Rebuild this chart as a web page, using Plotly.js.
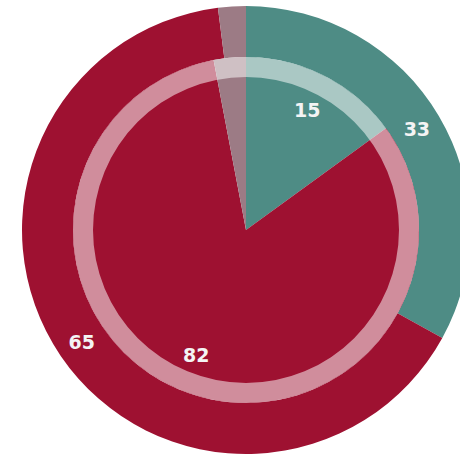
<!DOCTYPE html>
<html>
<head>
<meta charset="utf-8">
<script src="https://cdn.plot.ly/plotly-3.0.1.min.js"></script>
<style>
html,body{margin:0;padding:0;background:#fff;overflow:hidden;width:460px;height:455px;}
#chart{width:480px;height:455px;}
</style>
</head>
<body>
<div id="chart"></div>
<script>
// Data
const categories = ["Teal", "Crimson", "Other"];
const outerValues = [33, 65, 2];
const innerValues = [15, 82, 3];
const sliceColors = ["#4e8c85", "#9e1131", "#9c7b85"];

const W = 480, H = 455;
const cx = 246, cy = 230;          // centre in pixels (from top-left)
const rOuter = 224, rInner = 173, rBandIn = 153;

function dom(r) {
  return {
    x: [(cx - r) / W, (cx + r) / W],
    y: [(H - cy - r) / H, (H - cy + r) / H]
  };
}
function labelText(vals) {
  return vals.map((v, i) => i === vals.length - 1 ? "" : String(v));
}

const textFont = {family: "DejaVu Sans, Verdana, sans-serif", size: 19, color: "#f4f4f4", weight: "bold"};

const outer = {
  type: "pie", labels: categories, values: outerValues,
  sort: false, direction: "clockwise", rotation: 0,
  hole: rInner / rOuter,
  marker: {colors: sliceColors, line: {width: 0}},
  text: labelText(outerValues), textinfo: "text",
  textposition: "inside", insidetextorientation: "horizontal",
  insidetextfont: textFont,
  domain: dom(rOuter), hoverinfo: "none", showlegend: false
};
const inner = {
  type: "pie", labels: categories, values: innerValues,
  sort: false, direction: "clockwise", rotation: 0,
  marker: {colors: sliceColors, line: {width: 0}},
  textinfo: "none",
  domain: dom(rInner), hoverinfo: "none", showlegend: false
};
const band = {
  type: "pie", labels: ["band"], values: [1],
  sort: false, hole: rBandIn / rInner,
  marker: {colors: ["rgba(255,255,255,0.52)"], line: {width: 0}},
  textinfo: "none",
  domain: dom(rInner), hoverinfo: "none", showlegend: false
};
const innerLabels = {
  type: "pie", labels: categories, values: innerValues,
  sort: false, direction: "clockwise", rotation: 0,
  hole: 0.56,
  marker: {colors: ["rgba(0,0,0,0)", "rgba(0,0,0,0)", "rgba(0,0,0,0)"], line: {width: 0}},
  text: labelText(innerValues), textinfo: "text",
  textposition: "inside", insidetextorientation: "horizontal",
  insidetextfont: textFont,
  domain: dom(rInner), hoverinfo: "none", showlegend: false
};

Plotly.newPlot("chart", [outer, inner, band, innerLabels], {
  width: W, height: H,
  margin: {l: 0, r: 0, t: 0, b: 0},
  paper_bgcolor: "#ffffff",
  showlegend: false
}, {displayModeBar: false, staticPlot: true});
</script>
</body>
</html>
